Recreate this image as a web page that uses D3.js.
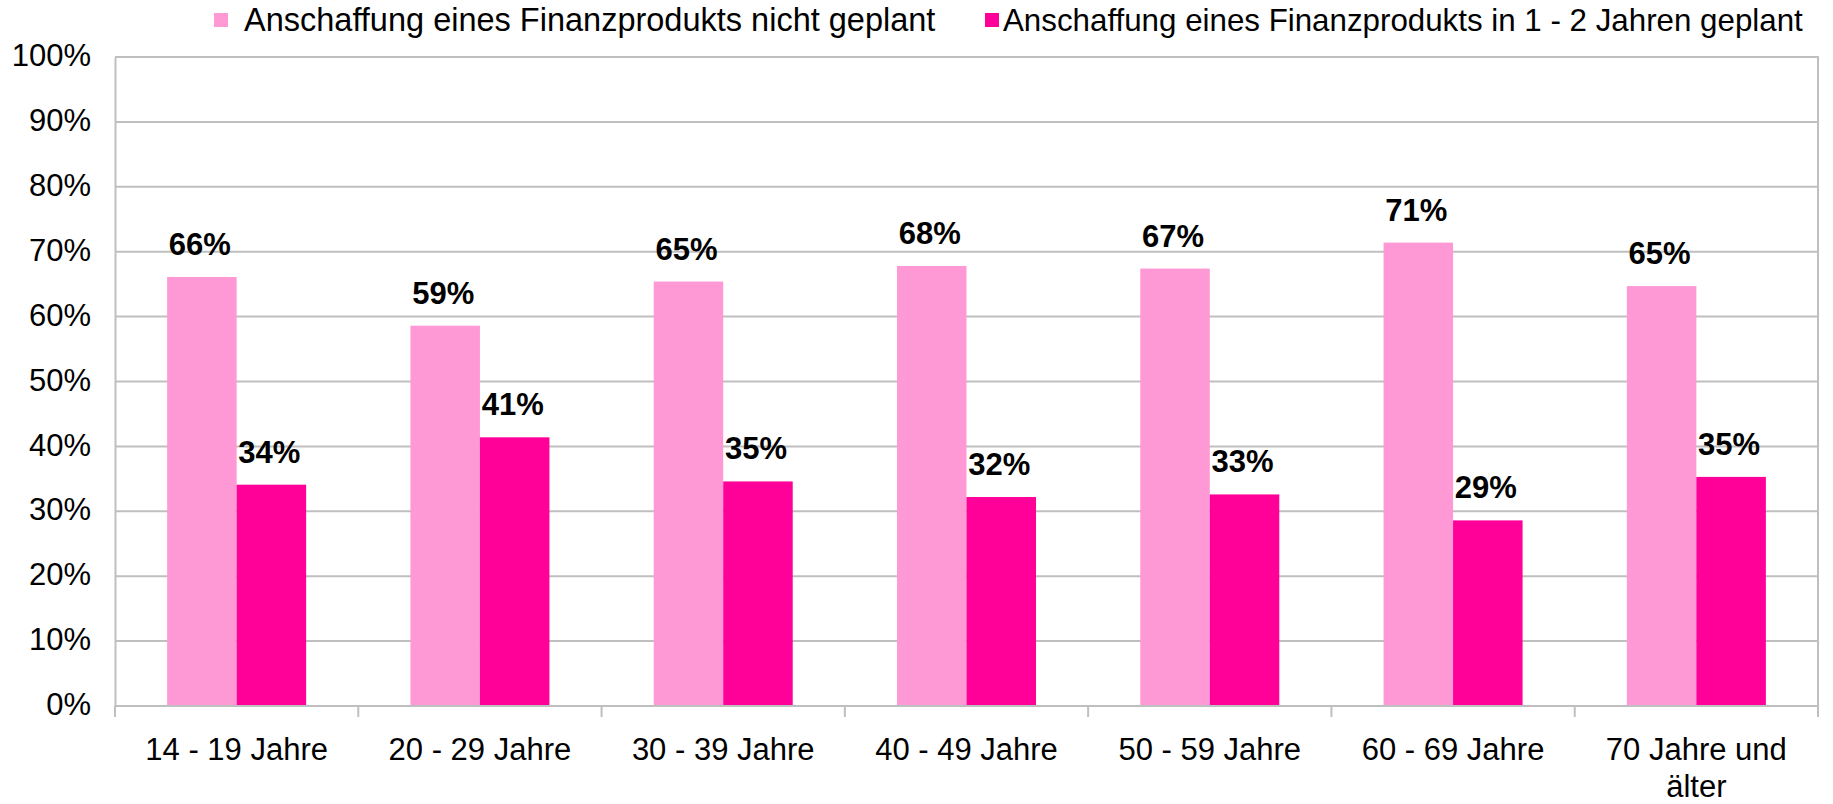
<!DOCTYPE html>
<html lang="de">
<head>
<meta charset="utf-8">
<script src="https://cdn.jsdelivr.net/npm/d3@7"></script>
<style>
  html, body { margin: 0; padding: 0; background: #fff; }
  svg { display: block; font-family: "Liberation Sans", Arial, sans-serif; }
</style>
</head>
<body>
<svg id="chart" width="1833" height="804"></svg>
<script>
// Age groups along the x axis
const categories = ["14 - 19 Jahre", "20 - 29 Jahre", "30 - 39 Jahre", "40 - 49 Jahre",
                    "50 - 59 Jahre", "60 - 69 Jahre", "70 Jahre und älter"];
// Series names
const seriesNames = ["Anschaffung eines Finanzprodukts nicht geplant",
                     "Anschaffung eines Finanzprodukts in 1 - 2 Jahren geplant"];
// Shares in percent per age group
const notPlanned = [66.1, 58.6, 65.4, 67.8, 67.4, 71.4, 64.7];
const planned    = [34.1, 41.4, 34.6, 32.2, 32.6, 28.6, 35.3];
// Y axis ticks in percent
const yTicks = [0, 10, 20, 30, 40, 50, 60, 70, 80, 90, 100];

const colors = ["#ff99d5", "#ff0099"];
const gridColor = "#bfbfbf";

const rows = categories.map((c, i) => ({ cat: c, values: [notPlanned[i], planned[i]] }));

const svg = d3.select("#chart");
const plot = { left: 115, right: 1818, top: 57, bottom: 706 };

const x0 = d3.scaleBand().domain(categories).range([plot.left, plot.right]).paddingInner(0).paddingOuter(0);
const x1 = d3.scaleBand().domain([0, 1]).range([0, x0.bandwidth()]).paddingInner(0).paddingOuter(0.75);
const y = d3.scaleLinear().domain([0, 100]).range([plot.bottom, plot.top]);

// Horizontal gridlines
svg.append("g")
  .selectAll("line")
  .data(yTicks)
  .join("line")
  .attr("x1", plot.left).attr("x2", plot.right)
  .attr("y1", d => y(d)).attr("y2", d => y(d))
  .attr("stroke", gridColor).attr("stroke-width", 2);

// Right border of the plot area
svg.append("line")
  .attr("x1", plot.right).attr("x2", plot.right)
  .attr("y1", plot.top - 1).attr("y2", plot.bottom + 11)
  .attr("stroke", gridColor).attr("stroke-width", 2);

// Y axis: labels only, line drawn in gray
const yAxis = d3.axisLeft(y).tickValues(yTicks).tickFormat(d => d + "%").tickSize(0).tickPadding(24);
const gy = svg.append("g").attr("transform", `translate(${plot.left},0)`).call(yAxis);
gy.select(".domain").attr("stroke", gridColor).attr("stroke-width", 2);
gy.selectAll("text").attr("font-size", 31).attr("fill", "#000")
  .attr("font-family", "'Liberation Sans', Arial, sans-serif").attr("dy", "0.28em");

// Bars
const groups = svg.append("g")
  .selectAll("g")
  .data(rows)
  .join("g")
  .attr("transform", d => `translate(${x0(d.cat)},0)`);

groups.selectAll("rect")
  .data(d => d.values.map((v, k) => ({ k, v })))
  .join("rect")
  .attr("x", d => x1(d.k))
  .attr("width", x1.bandwidth())
  .attr("y", d => y(d.v))
  .attr("height", d => y(0) - y(d.v))
  .attr("fill", d => colors[d.k]);

// Value labels above each bar
const fmt = d3.format(".0f");
groups.selectAll("text.val")
  .data(d => d.values.map((v, k) => ({ k, v })))
  .join("text")
  .attr("class", "val")
  .attr("x", d => x1(d.k) + x1.bandwidth() / 2 - 2)
  .attr("y", d => y(d.v) - 22)
  .attr("text-anchor", "middle")
  .attr("font-size", 31)
  .attr("font-weight", "bold")
  .attr("fill", "#000")
  .text(d => fmt(d.v) + "%");

// X axis: baseline, tick marks at category boundaries, wrapped labels
svg.append("line")
  .attr("x1", plot.left).attr("x2", plot.right)
  .attr("y1", y(0)).attr("y2", y(0))
  .attr("stroke", gridColor).attr("stroke-width", 2);

const bounds = categories.map(c => x0(c)).concat([plot.right]);
svg.append("g")
  .selectAll("line")
  .data(bounds)
  .join("line")
  .attr("x1", d => d).attr("x2", d => d)
  .attr("y1", y(0)).attr("y2", y(0) + 11)
  .attr("stroke", gridColor).attr("stroke-width", 2);

const labelLines = {
  "70 Jahre und älter": ["70 Jahre und", "älter"]
};
const xl = svg.append("g")
  .selectAll("text")
  .data(categories)
  .join("text")
  .attr("x", d => x0(d) + x0.bandwidth() / 2)
  .attr("y", 760)
  .attr("text-anchor", "middle")
  .attr("font-size", 31)
  .attr("fill", "#000");
xl.each(function(d) {
  const lines = labelLines[d] || [d];
  d3.select(this).selectAll("tspan")
    .data(lines)
    .join("tspan")
    .attr("x", x0(d) + x0.bandwidth() / 2)
    .attr("dy", (l, i) => i === 0 ? 0 : 37)
    .text(l => l);
});

// Legend
const legendItems = [
  { name: seriesNames[0], color: colors[0], mx: 214, tx: 244, size: 32.5 },
  { name: seriesNames[1], color: colors[1], mx: 985, tx: 1003, size: 31.3 }
];
const lg = svg.append("g")
  .selectAll("g")
  .data(legendItems)
  .join("g");
lg.append("rect")
  .attr("x", d => d.mx).attr("y", 13)
  .attr("width", 14).attr("height", 14)
  .attr("fill", d => d.color);
lg.append("text")
  .attr("x", d => d.tx).attr("y", 31)
  .attr("font-size", d => d.size)
  .attr("fill", "#000")
  .text(d => d.name);
</script>
</body>
</html>
